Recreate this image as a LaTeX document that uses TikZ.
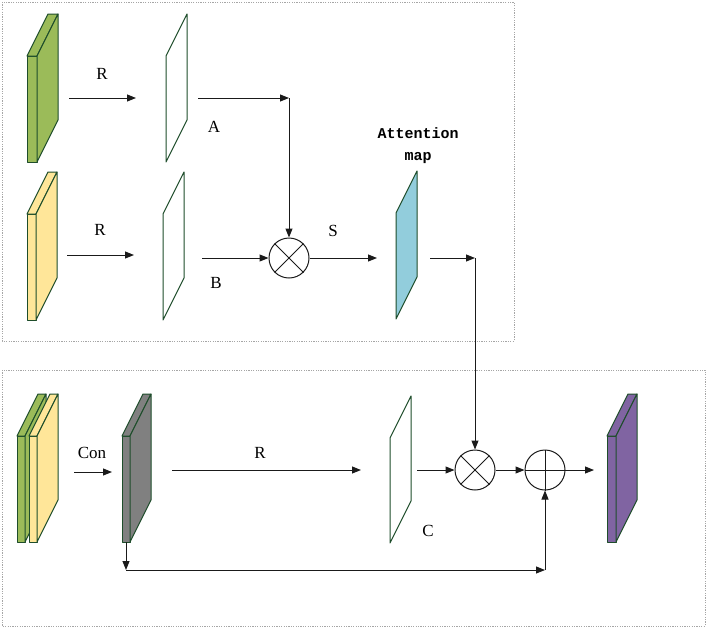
\documentclass[tikz,border=0pt]{standalone}
\usepackage{fontspec}
\setmainfont{Liberation Serif}
\newfontfamily\mapfont{Liberation Mono}
\usetikzlibrary{arrows.meta,positioning}
\definecolor{slabGreen}{HTML}{9BBB59}
\definecolor{slabYellow}{HTML}{FFE699}
\definecolor{slabGray}{HTML}{808080}
\definecolor{slabPurple}{HTML}{8064A2}
\definecolor{mapBlue}{HTML}{92CDDC}
\definecolor{edgeGreen}{HTML}{1E4D2B}
\definecolor{boxLine}{HTML}{A6A6A6}
\definecolor{arrowInk}{HTML}{1A1A1A}

% feature block: x, top y, width, height, fill
\newcommand{\featslab}[5]{%
  \draw[slabedge,fill=#5] (#1,#2) rectangle ({#1+#3},{#2+#4});
  \draw[slabedge,fill=#5] (#1,#2) -- ++(21,-42) -- ++(#3,0) -- ({#1+#3},#2) -- cycle;
  \draw[slabedge,fill=#5] ({#1+#3},#2) -- ++(21,-42) -- ++(0,#4) -- ({#1+#3},{#2+#4}) -- cycle;}
% flat map: x, top y, height, fill
\newcommand{\featplane}[4]{%
  \draw[slabedge,fill=#4] (#1,#2) -- ++(21,-42) -- ++(0,#3) -- ({#1},{#2+#3}) -- cycle;}

\begin{document}
\begin{tikzpicture}[x=1pt,y=-1pt,line join=round]
\useasboundingbox[fill=white] (0,0) rectangle (708,629);
\tikzset{slabedge/.style={draw=edgeGreen,line width=1pt},
  conn/.style={draw=arrowInk,line width=1pt,-{Triangle[length=9pt,width=7pt]}},
  opcircle/.style={circle,draw=arrowInk,line width=1pt,minimum size=40pt,inner sep=0pt},
  lbl/.style={font=\fontsize{17}{19}\selectfont,text=black},
  groupbox/.style={draw=boxLine,line width=0.6pt,dash pattern=on 1.2pt off 1.2pt}}
\draw[groupbox] (2,2) rectangle (514,341);
\draw[groupbox] (2,370) rectangle (705,626);

% upper branch
\featslab{27}{56}{10}{106}{slabGreen}
\featslab{27}{214}{9}{106}{slabYellow}
\featplane{166}{56}{106}{white}
\featplane{163}{214}{106}{white}
\featplane{396}{213}{106}{mapBlue}
\node[opcircle] (mulA) at (289,258) {};
\draw[arrowInk,line width=0.8pt] (mulA.north west) -- (mulA.south east) (mulA.north east) -- (mulA.south west);

\coordinate (rA0) at (69,98); \coordinate (rA1) at (136,98);
\coordinate (rB0) at (67,255); \coordinate (rB1) at (134,255);
\coordinate (aOut) at (198,98); \coordinate (aTurn) at (289,98);
\coordinate (bOut) at (202,258); \coordinate (sEnd) at (377,258);
\coordinate (mapOut) at (430,258); \coordinate (mapTurn) at (475,258);
\draw[conn] (rA0) -- (rA1);
\draw[conn] (rB0) -- (rB1);
\draw[conn] (aOut) -- (aTurn);
\draw[conn] (aTurn) -- (mulA.north);
\draw[conn] (bOut) -- (mulA.west);
\draw[conn] (mulA.east) -- (sEnd);
\draw[conn] (mapOut) -- (mapTurn);
\node[lbl] (labRA) at (102,74) {R};
\node[lbl] (labRB) at (100,230) {R};
\node[lbl] (labA) at (214,127) {A};
\node[lbl] (labB) at (216,283) {B};
\node[lbl] (labS) at (333,231) {S};
\node[font=\mapfont\bfseries\fontsize{15}{22}\selectfont,align=center] (labMap) at (418,146) {Attention\\map};

% lower branch
\featslab{17}{436}{8}{106}{slabGreen}
\featslab{29}{436}{8}{106}{slabYellow}
\featslab{122}{436}{8}{106}{slabGray}
\featplane{390}{438}{105}{white}
\featslab{607}{436}{9}{106}{slabPurple}
\node[opcircle] (mulC) at (475,470) {};
\draw[arrowInk,line width=0.8pt] (mulC.north west) -- (mulC.south east) (mulC.north east) -- (mulC.south west);
\node[opcircle] (addC) at (545,470) {};
\draw[arrowInk,line width=0.8pt] (addC.north) -- (addC.south) (addC.west) -- (addC.east);

\coordinate (conIn) at (74,472); \coordinate (conOut) at (112,472);
\coordinate (rC0) at (172,470); \coordinate (rC1) at (361,470);
\coordinate (cOut) at (417,470); \coordinate (outEnd) at (594,470);
\coordinate (skipTop) at (126,542); \coordinate (skipCorner) at (126,570);
\coordinate (skipTurn) at (545,570);
\draw[conn] (mapTurn) -- (mulC.north);
\draw[conn] (conIn) -- (conOut);
\draw[conn] (rC0) -- (rC1);
\draw[conn] (cOut) -- (mulC.west);
\draw[conn] (mulC.east) -- (addC.west);
\draw[conn] (addC.east) -- (outEnd);
\draw[conn] (skipTop) -- (skipCorner);
\draw[conn] (skipCorner) -- (skipTurn);
\draw[conn] (skipTurn) -- (addC.south);
\node[lbl] (labCon) at (92,453) {Con};
\node[lbl] (labRC) at (260,453) {R};
\node[lbl] (labC) at (428,531) {C};
\end{tikzpicture}
\end{document}
